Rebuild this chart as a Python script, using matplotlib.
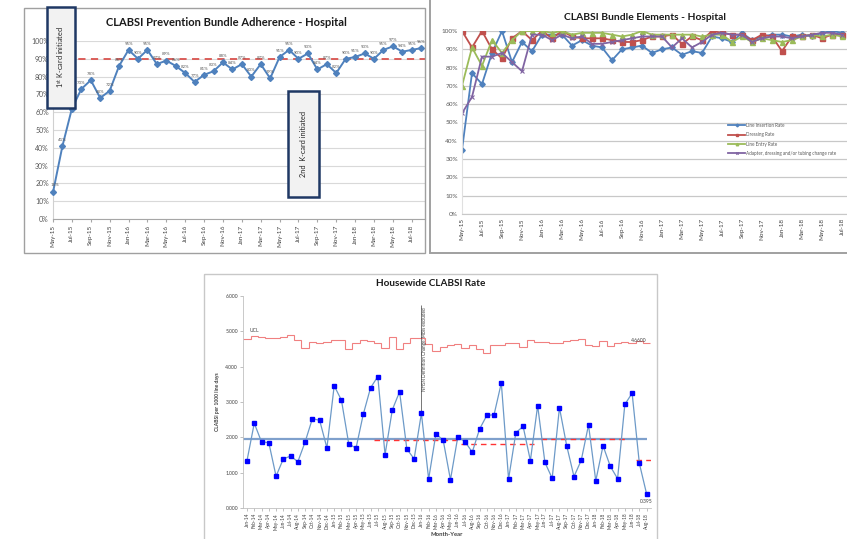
import matplotlib
matplotlib.use("Agg")
import matplotlib.pyplot as plt
from matplotlib.patches import Rectangle
import numpy as np
import pandas as pd

plt.rcParams['font.family'] = ['Lato', 'DejaVu Sans']

W, H = 847, 539

# ---------------- Data ----------------
# Panel 1: CLABSI Prevention Bundle Adherence (May-15 .. Aug-18)
p1_months = pd.date_range("2015-05-01", periods=40, freq="MS").strftime("%b-%y").tolist()
adherence = [15, 41, 62, 73, 78, 68, 72, 86, 95, 90, 95, 87, 89, 86, 82, 77, 81, 83, 88, 84,
             87, 80, 87, 79, 91, 95, 90, 93, 84, 87, 82, 90, 91, 93, 90, 95, 97, 94, 95, 96]
adherence_goal = 90

# Panel 2: CLABSI Bundle Elements (May-15 .. Jul-18)
p2_months = pd.date_range("2015-05-01", periods=39, freq="MS").strftime("%b-%y").tolist()
line_insertion = [35, 77, 71, 88, 100, 83, 94, 89, 98, 98, 98, 92, 95, 92, 91, 84, 90, 91, 92, 88,
                  90, 91, 87, 89, 88, 97, 96, 94, 99, 95, 97, 98, 98, 97, 98, 97, 99, 100, 99]
dressing = [100, 91, 100, 90, 85, 96, 100, 95, 100, 96, 100, 97, 96, 96, 96, 95, 94, 94, 95, 97,
            97, 98, 93, 97, 95, 100, 99, 98, 98, 95, 98, 97, 89, 97, 97, 98, 96, 98, 98]
line_entry = [70, 91, 81, 95, 88, 95, 100, 100, 100, 99, 100, 98, 99, 99, 99, 98, 97, 98, 100, 98,
              98, 98, 98, 98, 97, 98, 98, 94, 97, 94, 96, 95, 94, 95, 97, 98, 97, 98, 97]
adapter = [55, 64, 86, 86, 88, 83, 78, 98, 98, 95, 98, 96, 97, 93, 93, 94, 95, 96, 97, 97,
           97, 91, 96, 91, 94, 98, 99, 98, 98, 94, 96, 97, 97, 96, 97, 98, 99, 99, 98]
p2_series = ["Line Insertion Rate", "Dressing Rate", "Line Entry Rate",
             "Adapter, dressing and/or tubing change rate"]

# Panel 3: Housewide CLABSI Rate (Jan-14 .. Aug-18)
p3_months = pd.date_range("2014-01-01", periods=56, freq="MS").strftime("%b-%y").tolist()
clabsi_rate = [1.34, 2.40, 1.87, 1.85, 0.90, 1.39, 1.47, 1.31, 1.87, 2.53, 2.48, 1.70,
               3.46, 3.05, 1.82, 1.69, 2.65, 3.40, 3.72, 1.51, 2.78, 3.29, 1.67, 1.39,
               2.68, 0.82, 2.10, 1.92, 0.80, 2.00, 1.88, 1.58, 2.23, 2.62, 2.64, 3.54,
               0.82, 2.13, 2.31, 1.34, 2.90, 1.29, 0.84, 2.84, 1.76, 0.89, 1.35, 2.35,
               0.77, 1.76, 1.18, 0.83, 2.93, 3.25, 1.26, 0.395]
ucl = [4.79, 4.88, 4.84, 4.82, 4.80, 4.84, 4.90, 4.75, 4.54, 4.70, 4.66, 4.70,
       4.75, 4.75, 4.51, 4.66, 4.76, 4.73, 4.68, 4.54, 4.84, 4.51, 4.68, 4.82,
       4.80, 4.64, 4.45, 4.57, 4.60, 4.63, 4.54, 4.60, 4.51, 4.38, 4.60, 4.62,
       4.66, 4.68, 4.57, 4.75, 4.70, 4.69, 4.67, 4.67, 4.74, 4.75, 4.79, 4.61,
       4.58, 4.74, 4.58, 4.68, 4.70, 4.67, 4.73, 4.66]
center_line = 1.96
phase_start = ["Jul-15", "Jul-16", "Jun-17", "Jul-18"]
phase_end = ["Jul-16", "May-17", "Jun-18", "Aug-18"]
phase_value = [1.92, 1.81, 1.95, 1.36]

# ---------------- Figure ----------------
fig = plt.figure(figsize=(W / 100, H / 100), dpi=100)
fig.patch.set_facecolor("white")


def fax(x0, y0, x1, y1):
    return [x0 / W, 1 - y1 / H, (x1 - x0) / W, (y1 - y0) / H]


GRID = "#d9d9d9"
AXC = "#a6a6a6"
TXT = "#595959"
BLUE = "#4F81BD"
RED = "#C0504D"
GREEN = "#9BBB59"
PURPLE = "#8064A2"

# ---------- Panel 1 ----------
ax1 = fig.add_axes(fax(53, 41, 425, 219))
x1 = np.arange(len(adherence))
ax1.set_xlim(0, 39.4)
ax1.set_ylim(0, 100)
ax1.set_yticks(np.arange(0, 101, 10))
ax1.set_yticklabels([f"{v}%" for v in range(0, 101, 10)], fontsize=5, color=TXT)
ax1.yaxis.grid(True, color=GRID, lw=0.8)
ax1.set_axisbelow(True)
ax1.set_xticks(x1[::2])
ax1.set_xticklabels(p1_months[::2], rotation=90, fontsize=4.6, color="#404040")
ax1.tick_params(axis="y", length=0, pad=3)
ax1.tick_params(axis="x", length=2, color=AXC, pad=2)
for s in ["top", "right"]:
    ax1.spines[s].set_visible(False)
ax1.spines["left"].set_color("#d0d0d0")
ax1.spines["bottom"].set_color(AXC)
ax1.axhline(adherence_goal, color="#d9534f", ls=(0, (4, 3)), lw=1.3, zorder=2)
ax1.plot(x1, adherence, color=BLUE, lw=1.4, marker="D", ms=3, zorder=3, clip_on=False)
for i, v in enumerate(adherence):
    if i == 0:
        ax1.annotate(f"{v}%", (i, v), xytext=(1.5, 4), textcoords="offset points",
                     ha="center", va="bottom", fontsize=3.2, color=TXT)
    else:
        ax1.annotate(f"{v}%", (i, v), xytext=(0, 3), textcoords="offset points",
                     ha="center", va="bottom", fontsize=3.2, color=TXT, annotation_clip=False)

# ---------- Panel 2 ----------
ax2 = fig.add_axes(fax(462, 31, 862, 214))
x2 = np.arange(len(line_insertion))
ax2.set_xlim(0, 40)
ax2.set_ylim(0, 100)
ax2.set_yticks(np.arange(0, 101, 10))
ax2.set_yticklabels([f"{v}%" for v in range(0, 101, 10)], fontsize=4.6, color=TXT)
ax2.yaxis.grid(True, color="#c8c8c8", lw=0.9)
ax2.set_axisbelow(True)
ax2.set_xticks(x2[::2])
ax2.set_xticklabels(p2_months[::2], rotation=90, fontsize=4.6, color="#404040")
ax2.tick_params(axis="both", length=0, pad=3)
for s in ["top", "right"]:
    ax2.spines[s].set_visible(False)
ax2.spines["left"].set_color("#e0e0e0")
ax2.spines["bottom"].set_color("#c8c8c8")
h1, = ax2.plot(x2, line_insertion, color=BLUE, lw=1.3, marker="D", ms=2.8, label=p2_series[0])
h2, = ax2.plot(x2, dressing, color=RED, lw=1.3, marker="s", ms=3.6, label=p2_series[1])
h3, = ax2.plot(x2, line_entry, color=GREEN, lw=1.3, marker="^", ms=3.6, label=p2_series[2])
h4, = ax2.plot(x2, adapter, color=PURPLE, lw=1.3, marker="x", ms=3.4, mew=0.8, label=p2_series[3])
leg = ax2.legend(handles=[h1, h2, h3, h4], loc="upper left", bbox_to_anchor=(0.66, 0.51),
                 fontsize=3.3, frameon=False, handlelength=3.6, labelspacing=0.95,
                 borderpad=0, handletextpad=0.3, markerscale=0.5)
for t in leg.get_texts():
    t.set_color(TXT)

# ---------- Panel 3 ----------
ax3 = fig.add_axes(fax(243, 296, 651, 508))
x3 = np.arange(len(clabsi_rate))
ax3.set_xlim(-0.55, 55.6)
ax3.set_ylim(0, 6)
ax3.set_yticks(np.arange(0, 7, 1))
ax3.set_yticklabels([f"{v:.3f}" for v in range(0, 7)], fontsize=3.6, color="#404040")
ax3.set_xticks(x3)
ax3.set_xticklabels(p3_months, rotation=90, fontsize=3.4, color="#404040")
ax3.tick_params(axis="x", length=2, width=0.5, color=AXC, pad=1.5)
ax3.tick_params(axis="y", length=2, width=0.5, color=AXC, pad=1.5)
for s in ["top", "right"]:
    ax3.spines[s].set_visible(False)
ax3.spines["left"].set_color("#c0c0c0")
ax3.spines["bottom"].set_color("#c0c0c0")
ax3.spines["left"].set_linewidth(0.6)
ax3.spines["bottom"].set_linewidth(0.6)

ax3.stairs(ucl, np.arange(len(ucl) + 1) - 0.5, baseline=None, color="#f08080", lw=0.8)
ax3.hlines(center_line, -0.55, len(clabsi_rate) - 1, color="#7fa0cc", lw=1.6, zorder=2)
idx = {m: i for i, m in enumerate(p3_months)}
for s_, e_, v in zip(phase_start, phase_end, phase_value):
    a = idx[s_] - 0.5
    b = idx[e_] + (0.6 if e_ == "Aug-18" else -0.5)
    ax3.hlines(v, a, b, color="#ff3333", lw=1.0, ls=(0, (4, 3)), zorder=2)
ax3.plot(x3, clabsi_rate, color="#6d9ac8", lw=0.9, marker="s", ms=3.0,
         mfc="#0000ff", mec="#0000ff", zorder=3, clip_on=False)

ax3.text(0.4, 5.01, "UCL", fontsize=3.6, color="#404040", ha="left", va="center")
ax3.text(53.9, 4.73, f"{ucl[-1]:.4f}", fontsize=3.6, color="#404040", ha="center", va="center")
ax3.text(55.0, 0.17, f"{clabsi_rate[-1]:.3f}", fontsize=3.6, color="#404040",
         ha="center", va="center", clip_on=False)
jan16 = idx["Jan-16"]
ax3.vlines(jan16, clabsi_rate[jan16] + 0.07, 5.75, color="#404040", lw=0.5)
ax3.text(jan16 + 0.05, 3.3, "NHSN Definition Change: MBIs excluded", rotation=90,
         fontsize=3.3, color="#404040", ha="left", va="bottom")
ax3.set_ylabel("CLABSI per 1000 line days", fontsize=3.6, fontweight="bold", color="#404040", labelpad=4)
ax3.set_xlabel("Month-Year", fontsize=4.2, fontweight="bold", color="#404040", labelpad=2)

# ---------- Overlay (borders, titles, annotation boxes) ----------
ov = fig.add_axes([0, 0, 1, 1], zorder=10)
ov.set_xlim(0, W)
ov.set_ylim(H, 0)
ov.axis("off")
ov.patch.set_alpha(0)

ov.add_patch(Rectangle((24, 8), 401, 245, fill=False, ec="#a0a0a0", lw=1.0))
ov.add_patch(Rectangle((430, -5), 430, 258, fill=False, ec="#a0a0a0", lw=1.4))
ov.add_patch(Rectangle((204, 274), 453, 280, fill=False, ec="#c8c8c8", lw=1.0))

ov.text(226, 23, "CLABSI Prevention Bundle Adherence - Hospital", fontsize=8,
        fontweight="bold", ha="center", va="center", color="#1a1a1a")
ov.text(645, 17, "CLABSI Bundle Elements - Hospital", fontsize=7.4,
        fontweight="bold", ha="center", va="center", color="#1a1a1a")
ov.text(431, 284, "Housewide CLABSI Rate", fontsize=7.2,
        fontweight="bold", ha="center", va="center", color="#1a1a1a")

ov.add_patch(Rectangle((47, 7), 28, 101, fc="#f2f2f2", ec="#1f3864", lw=1.8))
ov.text(61, 57.5, "1$^{\\mathregular{st}}$ K-card initiated", rotation=90, fontsize=5.3,
        ha="center", va="center", color="#262626")
ov.add_patch(Rectangle((288, 91), 31, 106, fc="#f2f2f2", ec="#1f3864", lw=1.8))
ov.text(303.5, 144, "2nd  K-card initiated", rotation=90, fontsize=5.3,
        ha="center", va="center", color="#262626")

fig.savefig("out.png", dpi=100, facecolor="white")
